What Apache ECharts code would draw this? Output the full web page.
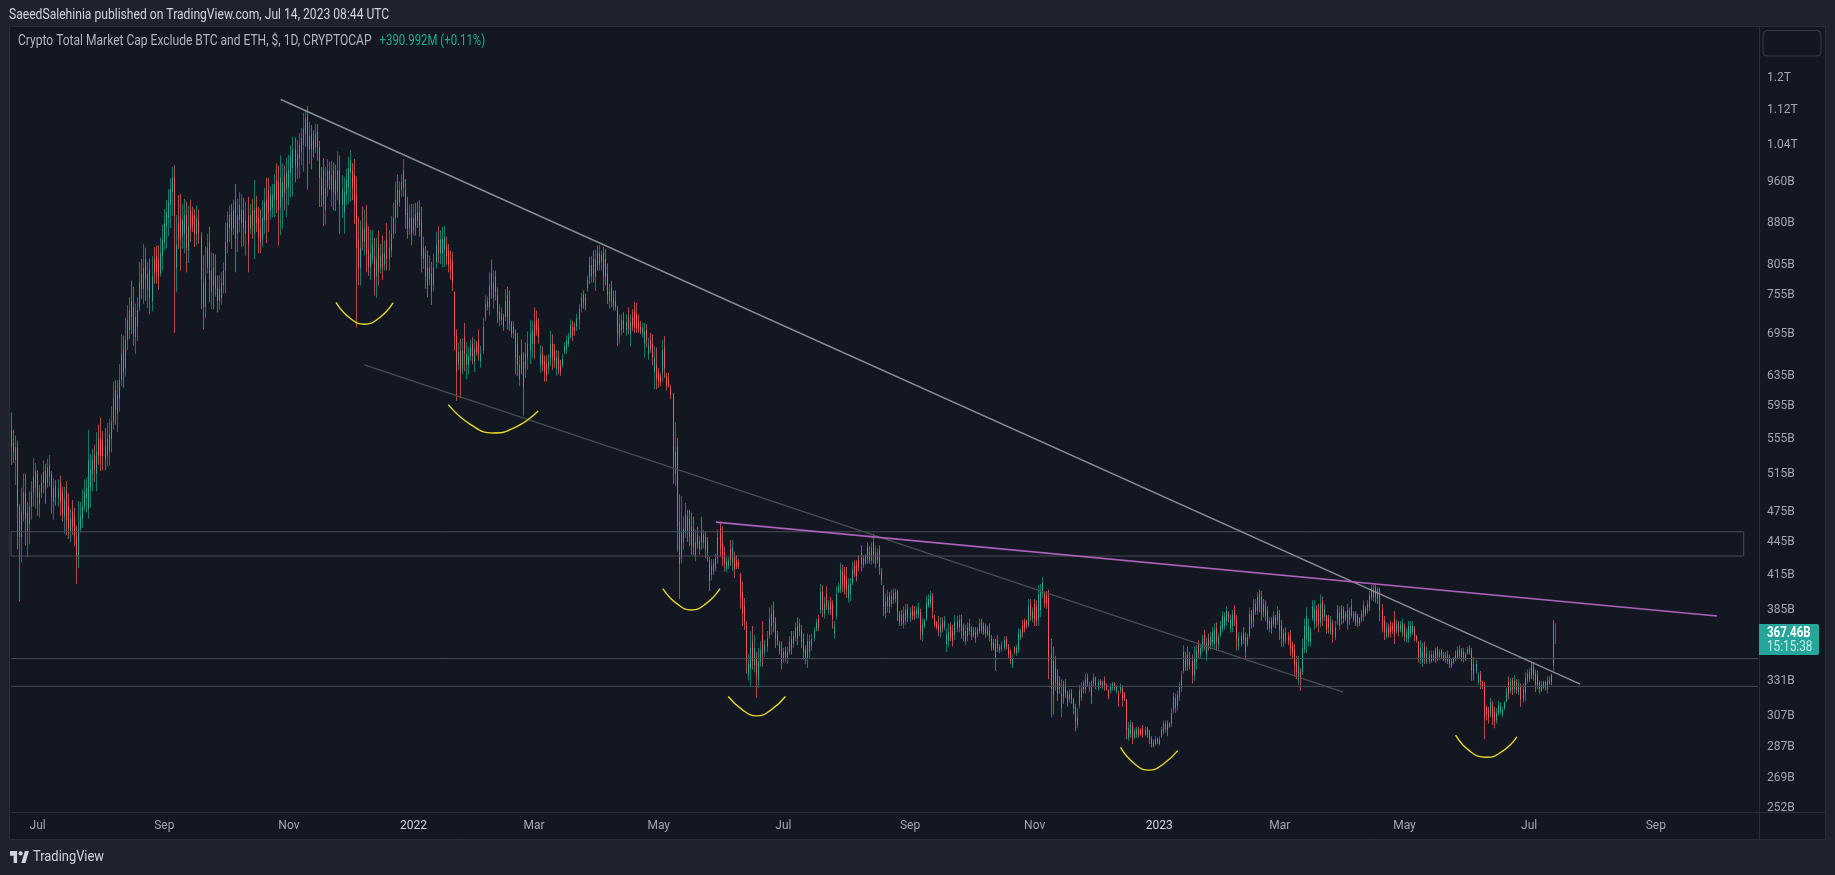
<!DOCTYPE html>
<html>
<head>
<meta charset="utf-8">
<title>Crypto Total Market Cap Exclude BTC and ETH</title>
<style>
html,body{margin:0;padding:0;background:#1e222d;}
#main{width:1835px;height:875px;}
</style>
<script src="https://cdn.jsdelivr.net/npm/echarts@6/dist/echarts.min.js"></script>
</head>
<body>
<div id="main"></div>
<script>
// every row is [open, close, low, high] in billions of dollars, one per day from firstDay
var firstDay = '2021-06-18';
var dayCount = 856;

var candles2021 = [
[565,545,525,587],[550,540,527,566],[530,545,503,559],[545,480,438,553],[480,450,392,483],[450,475,426,500],
[472,495,465,515],[495,468,442,515],[455,475,431,485],[463,480,443,496],[480,495,467,507],[495,512,480,533],
[500,518,478,527],[515,490,471,519],[483,495,469,503],[495,505,489,515],[505,517,494,530],[518,500,483,526],
[505,522,500,532],[512,525,501,536],[515,490,473,518],[485,500,467,510],[502,490,481,508],[490,498,480,509],
[505,485,471,513],[495,472,465,501],[470,488,453,501],[495,465,452,507],[480,458,448,494],[455,468,445,478],
[475,460,452,487],[470,450,441,479],[450,432,407,461],[430,458,421,486],[458,470,454,485],[468,480,459,498],
[480,495,476,509],[488,500,474,511],[478,530,468,566],[500,520,479,537],[515,530,496,543],[535,520,506,548],
[515,540,496,563],[555,535,525,572],[555,535,518,581],[552,535,519,564],[545,532,519,568],[535,555,523,574],
[540,560,524,580],[555,575,539,595],[575,605,566,627],[615,590,572,629],[585,610,563,629],[605,630,588,651],
[630,665,621,694],[672,640,619,692],[645,685,634,719],[685,715,671,738],[700,730,687,751],[745,720,694,778],
[735,695,677,768],[690,720,665,741],[705,730,684,751],[735,775,729,810],[790,765,748,815],[765,800,740,842],
[815,780,745,835],[765,790,734,810],[795,750,724,816],[745,785,729,820],[815,790,773,836],[820,795,773,839],
[815,785,763,839],[790,825,785,853],[820,850,795,877],[845,880,830,907],[875,900,833,924],[890,920,855,946],
[915,945,871,968],[940,970,894,993],[970,895,696,996],[800,840,759,895],[880,850,833,934],[890,850,795,937],
[855,885,833,917],[860,895,825,927],[895,835,792,921],[830,875,808,914],[905,870,845,925],[895,875,863,912],
[895,860,836,907],[860,890,839,914],[885,860,842,906],[855,780,732,863],[775,735,701,821],[735,785,718,837],
[800,835,790,860],[845,780,743,873],[760,795,732,827],[800,770,732,825],[785,765,752,823],[765,745,727,787],
[745,765,731,787],[750,775,739,793],[770,795,757,809],[795,845,757,881],[845,880,825,902],[870,895,845,914],
[900,865,833,917],[870,905,858,925],[920,850,792,957],[860,895,827,927],[885,915,863,940],[880,905,836,937],
[905,870,838,929],[860,885,821,921],[895,840,792,931],[870,895,860,917],[905,875,851,927],[860,905,815,965],
[910,880,863,933],[890,855,825,911],[870,845,825,907],[850,890,836,924],[885,920,860,949],[925,885,843,970],
[945,900,864,969],[905,935,886,952],[910,935,891,957],[925,955,891,977],[965,925,899,1000],[960,905,838,995],
[910,970,857,1017],[930,960,869,1000],[975,940,904,995],[945,980,891,1012],[950,985,914,1018],[980,1015,929,1039],
[990,1030,932,1058],[1030,995,960,1057],[990,1020,967,1051],[1010,1040,969,1066],[1025,1055,996,1078],[1040,1075,982,1114],
[1065,1100,1036,1121],[1105,1035,945,1130],[1030,1060,998,1092],[1065,1030,987,1085],[1050,1030,1012,1073],[1035,1065,1022,1088],
[1070,1035,1006,1087],[1035,970,911,1049],[970,935,911,992],[985,915,874,1011],[905,950,877,992],[950,985,931,1009],
[985,965,945,1003],[945,975,911,1005],[985,940,904,1002],[965,935,903,997],[940,985,924,1026],[985,915,859,1017],
[915,945,889,975],[900,940,860,970],[935,965,914,988],[950,990,917,1014],[980,1005,921,1029],[985,950,924,1000],
[975,915,878,1009],[935,835,704,972],[850,800,770,892],[800,835,770,885],[870,845,830,912],[845,870,821,906],
[880,825,792,914],[830,800,786,874],[800,825,779,867],[815,840,806,867],[820,780,754,853],[785,815,750,853],
[835,795,770,866],[800,820,790,842],[825,800,779,857],[805,825,795,848],[850,815,795,880],[815,835,795,867],
[830,860,818,893],[860,890,851,919],[890,925,860,962],[945,915,890,976],[920,945,911,962]
];

var candles2022 = [
[945,960,931,977],[950,985,931,1009],[945,895,869,967],[900,870,851,931],[870,890,858,916],[890,860,839,917],
[865,890,857,917],[895,875,857,919],[900,885,871,921],[900,875,855,924],[880,820,792,911],[815,835,798,855],
[825,785,765,838],[800,770,751,830],[780,800,770,821],[790,760,739,810],[770,800,760,825],[810,840,798,863],
[850,825,808,874],[825,850,806,867],[825,850,801,873],[830,855,801,875],[840,820,805,855],[830,805,792,842],
[815,795,780,830],[810,775,761,827],[760,690,670,760],[690,640,602,701],[650,668,643,682],[670,640,605,687],
[645,670,637,688],[690,665,641,711],[650,665,630,682],[650,662,637,675],[662,675,656,686],[680,662,651,690],
[655,672,640,687],[678,668,663,684],[685,665,656,701],[655,665,646,677],[670,705,665,719],[720,740,714,754],
[735,745,730,752],[735,770,722,792],[790,765,749,814],[750,775,733,795],[785,760,746,795],[755,725,711,767],
[715,728,706,740],[715,725,708,735],[720,705,699,725],[720,745,714,764],[755,720,701,768],[745,710,699,762],
[710,695,689,714],[695,705,687,714],[695,660,637,701],[680,650,635,696],[630,650,621,663],[665,645,637,686],
[655,620,583,668],[645,665,632,682],[660,680,643,698],[670,695,651,716],[680,700,660,714],[710,680,658,735],
[715,700,692,730],[705,690,680,718],[650,665,639,678],[665,650,641,676],[655,640,627,663],[650,635,627,663],
[645,655,637,665],[660,680,649,699],[680,660,643,694],[670,655,646,680],[645,660,635,671],[660,645,637,670],
[650,640,635,657],[650,658,646,665],[668,676,665,682],[672,685,665,692],[680,690,675,696],[690,708,687,716],
[705,692,684,714],[705,698,692,711],[705,718,699,725],[715,732,701,740],[735,750,727,758],[755,742,733,762],
[750,738,730,757],[765,780,760,787],[805,785,773,819],[785,805,775,820],[815,790,775,830],[785,815,761,831],
[825,805,795,839],[805,825,795,839],[810,822,795,830],[825,785,761,836],[815,785,770,833],[790,755,740,807],
[745,760,733,773],[765,745,735,778],[750,738,730,762],[745,735,730,762],[730,695,677,737],[690,710,680,724],
[700,715,692,724],[715,702,696,727],[700,712,692,724],[720,702,694,735],[695,712,676,724],[720,705,699,732],
[730,705,696,744],[725,702,696,742],[712,700,696,724],[705,698,694,714],[695,703,689,711],[680,698,660,711],
[700,685,675,709],[665,678,657,689],[685,672,667,696],[680,660,649,694],[640,660,617,676],[650,630,617,675],
[640,628,619,646],[635,626,621,639],[640,670,627,686],[675,645,632,691],[635,622,615,639],[630,622,619,639],
[618,610,604,623],[610,525,504,612],[515,540,502,575],[545,460,436,556],[465,425,394,493],[430,455,425,491],
[445,458,438,470],[455,472,449,484],[470,455,445,477],[468,450,441,477],[460,442,433,474],[458,440,433,470],
[432,445,427,457],[452,443,439,460],[438,446,433,451],[455,445,438,470],[444,452,439,457],[450,438,430,455],
[445,435,427,450],[428,410,401,431],[415,423,410,429],[418,425,415,429],[421,430,418,434],[430,450,425,457],
[458,440,431,465],[445,430,423,460],[435,425,418,441],[420,427,417,431],[423,428,420,431],[438,428,423,447],
[425,440,418,447],[432,420,412,436],[428,422,420,433],[426,422,420,429],[415,395,386,417],[400,382,372,409],
[388,375,369,395],[372,345,336,376],[335,343,331,350],[340,355,327,368],[360,345,339,372],[342,355,337,365],
[348,335,319,352],[332,345,326,355],[345,353,341,360],[365,350,341,376],[352,358,348,361],[356,362,352,368],
[365,378,362,387],[372,382,365,389],[385,375,367,392],[375,362,355,379],[365,360,357,368],[358,353,350,360],
[355,345,339,360],[347,352,344,355],[348,353,344,356],[347,352,343,356],[352,360,350,364],[362,354,350,368],
[358,364,355,368],[363,371,360,375],[372,362,357,379],[367,374,364,378],[368,360,355,373],[362,352,346,366],
[354,348,343,357],[347,360,340,366],[352,360,348,365],[356,362,353,366],[363,368,360,371],[369,375,368,378],
[378,371,368,381],[385,400,382,407],[400,385,379,406],[382,390,378,396],[398,388,385,405],[385,390,381,393],
[392,385,381,396],[390,378,370,393],[366,372,362,376],[380,398,377,405],[400,405,399,408],[402,420,399,426],
[418,407,400,424],[415,404,398,422],[412,402,395,422],[395,406,391,412],[398,407,392,412],[408,420,406,427],
[424,416,413,428],[424,414,409,428],[428,422,418,433],[435,425,418,442],[424,430,421,433],[426,432,424,434],
[440,430,425,445],[436,428,425,441],[428,440,424,445],[445,432,425,453],[425,436,421,442],[428,435,425,439],
[438,422,415,442],[418,410,406,421],[404,388,380,406],[382,392,378,399],[388,396,383,402],[397,388,382,400],
[390,397,387,402],[393,399,390,403],[394,400,391,403],[400,384,376,402],[382,375,372,384],[381,376,372,385],
[374,382,370,388],[376,385,373,390],[386,379,375,390],[378,383,375,387],[385,380,377,389],[384,380,377,388],
[381,385,378,388],[381,387,378,391],[383,368,361,386],[365,373,360,378],[372,376,370,378],[378,391,376,397],
[388,394,387,398],[390,397,387,401],[396,384,378,399],[379,374,371,381],[375,371,369,376],[373,368,364,380],
[367,373,363,379],[375,370,367,379],[371,376,369,380],[358,365,352,370],[360,367,356,374],[372,363,360,375],
[368,360,356,373],[365,375,361,381],[370,376,367,380],[371,377,367,381],[378,368,362,381],[371,364,360,374],
[360,368,357,373],[364,371,360,375],[368,374,365,378],[370,364,361,372],[368,365,363,371],[367,362,359,371],
[365,369,363,371],[368,374,366,378],[375,369,366,378],[372,367,365,375],[370,366,363,374],[369,366,364,372],
[368,363,360,374],[362,356,353,365],[359,355,353,362],[358,348,338,362],[361,355,352,365],[353,356,351,358],
[354,357,352,360],[355,361,353,364],[362,357,354,364],[356,350,347,358],[352,346,343,354],[342,347,340,350],
[355,352,350,356],[351,355,349,357],[354,366,351,370],[363,368,361,370],[372,367,363,377],[375,370,367,378],
[376,372,370,377],[373,388,371,394],[390,380,376,394],[378,384,375,387],[390,377,372,394],[388,376,372,393],
[378,398,372,406],[385,400,379,407],[398,408,395,413],[398,391,387,400],[397,390,386,401],[395,345,332,402],
[350,325,306,362],[345,320,308,356],[340,330,324,349],[335,322,317,339],[330,325,322,334],[312,322,306,332],
[328,320,315,331],[328,322,319,332],[322,316,313,324],[318,322,316,325],[322,318,315,325],[317,312,308,319],
[313,303,297,315],[301,306,299,312],[314,324,312,328],[319,326,317,330],[329,325,322,331],[325,332,322,336],
[333,329,327,336],[325,328,323,330],[328,320,315,331],[329,333,327,336],[332,328,325,334],[326,330,324,332],
[331,328,326,332],[327,330,325,331],[331,327,324,334],[328,326,324,329],[324,320,318,325],[324,327,322,329],
[326,329,324,330],[329,326,324,330],[324,327,322,328],[322,317,313,324],[324,327,322,329],[326,318,313,328],
[322,319,317,323],[318,298,292,318],[293,299,291,303],[295,301,293,304],[301,293,289,303],[293,297,292,299],
[295,298,293,300],[298,295,293,300]
];

var candles2023 = [
[298,295,294,299],[299,295,293,301],[295,298,294,300],[299,295,293,300],[296,292,289,298],[292,289,287,294],
[290,288,287,292],[289,292,288,294],[292,290,289,293],[289,292,288,294],[294,298,293,300],[297,302,295,304],
[298,302,296,304],[302,298,294,304],[300,302,299,303],[302,309,300,312],[311,320,309,323],[312,319,309,322],
[314,321,310,324],[320,327,317,330],[326,334,323,338],[338,352,336,357],[348,341,338,352],[350,342,338,356],
[347,342,339,352],[345,335,329,350],[335,347,331,356],[345,353,339,357],[358,351,347,361],[350,355,347,358],
[355,362,352,365],[365,358,353,369],[350,359,345,363],[362,357,353,366],[357,363,354,367],[359,367,356,371],
[358,369,354,374],[370,360,353,375],[358,363,354,366],[365,372,363,376],[370,380,367,384],[372,379,369,383],
[376,384,372,388],[382,378,375,384],[370,377,367,381],[372,381,367,385],[385,377,372,389],[378,362,353,381],
[356,363,353,367],[358,364,356,367],[366,361,358,371],[363,352,346,367],[358,363,356,366],[364,382,362,387],
[382,374,370,385],[386,376,371,394],[383,390,381,394],[384,396,381,400],[398,388,383,402],[396,382,376,401],
[390,383,379,394],[388,380,376,393],[385,374,369,388],[370,376,367,379],[376,370,366,379],[373,380,371,384],
[379,373,370,381],[376,384,373,388],[382,369,361,385],[372,362,356,377],[366,360,356,370],[360,367,358,371],
[364,360,357,367],[365,354,349,369],[357,351,347,360],[354,342,334,358],[344,337,332,349],[332,342,328,349],
[338,332,324,340],[337,355,335,362],[354,372,351,378],[362,380,351,387],[360,372,356,378],[360,368,356,371],
[378,388,376,393],[374,386,369,393],[385,376,371,389],[385,373,367,390],[375,390,371,398],[392,378,372,396],
[379,386,376,390],[380,370,366,381],[379,371,366,381],[367,375,365,380],[374,365,359,377],[363,371,361,376],
[385,378,373,389],[372,383,369,388],[386,378,373,389],[385,378,374,388],[382,378,376,384],[374,385,369,390],
[384,377,373,387],[380,389,378,394],[377,382,375,384],[382,375,372,384],[380,374,371,382],[378,374,372,379],
[377,382,375,385],[379,389,376,393],[386,382,380,388],[384,390,382,393],[387,397,384,401],[395,403,393,406],
[395,402,392,406],[404,396,391,406],[402,395,390,404],[402,385,376,404],[385,372,367,390],[376,367,361,380],
[364,371,362,375],[371,366,363,374],[372,367,363,376],[372,369,366,375],[378,365,358,384],[368,374,366,377],
[374,368,364,376],[369,373,367,376],[366,374,363,378],[372,364,360,374],[362,367,359,370],[362,372,359,376],
[366,372,363,376],[367,372,365,376],[370,364,360,372],[364,361,359,365],[360,348,344,360],[346,355,343,361],
[344,352,341,359],[356,348,343,360],[345,351,343,356],[345,350,343,353],[345,350,344,353],[346,350,345,353],
[353,347,344,355],[354,349,345,356],[348,352,346,354],[353,349,347,354],[350,347,345,352],[349,346,344,352],
[345,350,343,353],[348,343,340,350],[345,342,340,347],[344,347,343,348],[350,347,345,353],[348,353,346,356],
[349,354,347,357],[353,348,345,355],[347,352,344,355],[346,350,345,352],[351,354,350,356],[355,352,350,357],
[353,338,331,355],[343,336,331,348],[338,343,336,346],[330,335,328,337],[336,330,325,338],[330,327,325,331],
[328,305,292,330],[312,308,304,314],[311,306,302,313],[308,316,306,319],[314,306,301,317],[310,303,299,313],
[304,309,302,312],[309,314,307,317],[310,314,308,316],[308,311,306,313],[312,316,311,317],[317,323,316,326],
[330,322,318,334],[324,330,322,333],[331,325,321,333],[325,331,322,335],[330,325,322,332],[323,329,321,332],
[327,318,313,329],[318,325,316,329],[322,333,317,337],[331,336,329,339],[332,337,330,340],[342,335,332,344],
[341,335,331,344],[336,328,323,339],[335,328,325,338],[330,325,322,331],[324,328,323,331],[326,330,325,331],
[330,326,324,331],[325,331,322,334],[329,332,328,334],[335,330,328,336],[342,376,337,377],[367.07,367.46,358,374]
];

// price axis labels
var priceTicks = [1200,1120,1040,960,880,805,755,695,635,595,555,515,475,445,415,385,331,307,287,269,252];
var priceMin = 250;
var priceMax = 1338;

// time axis labels
var timeTickDates = ['2021-07-01','2021-09-01','2021-11-01','2022-01-01','2022-03-01','2022-05-01','2022-07-01','2022-09-01','2022-11-01','2023-01-01','2023-03-01','2023-05-01','2023-07-01','2023-09-01'];
var timeTickNames = ['Jul','Sep','Nov','2022','Mar','May','Jul','Sep','Nov','2023','Mar','May','Jul','Sep'];

// drawings on the chart: [date, price]
var resistanceLine = [['2021-10-28',1146],['2023-07-26',328.6]];
var channelLine = [['2021-12-08',650],['2023-04-01',323]];
var purpleLine = [['2022-05-29',464.5],['2023-10-01',380]];
var rangeBox = [['2021-06-18',455],['2023-10-14',455],['2023-10-14',432],['2021-06-18',432]];
var supportUpper = [['2021-06-18',347],['2023-10-21',347]];
var supportLower = [['2021-06-18',327],['2023-10-21',327]];
var arc1 = [['2021-11-24',743],['2021-12-01',718],['2021-12-08',709],['2021-12-15',718],['2021-12-22',742]];
var arc2 = [['2022-01-18',597],['2022-01-29',572],['2022-02-09',562],['2022-02-20',569],['2022-03-03',589]];
var arc3 = [['2022-05-03',403],['2022-05-10',390],['2022-05-17',385],['2022-05-24',390],['2022-05-31',403]];
var arc4 = [['2022-06-04',320],['2022-06-11',311],['2022-06-18',307],['2022-06-25',311],['2022-07-02',320]];
var arc5 = [['2022-12-13',287],['2022-12-20',277],['2022-12-27',273.4],['2023-01-03',277],['2023-01-10',285]];
var arc6 = [['2023-05-26',294.6],['2023-06-02',284.7],['2023-06-10',281],['2023-06-18',284.7],['2023-06-25',293.6]];

var fontName = 'Roboto,sans-serif';
var candles = candles2021.concat(candles2022, candles2023);

function buildDays(){
	var days = [];
	var t = Date.parse(firstDay + 'T00:00:00Z');
	for(var i=0;i<dayCount;i++){
		days.push(new Date(t + i*86400000).toISOString().slice(0,10));
	}
	return days;
}

function priceLabel(v){
	return v>=1000 ? (v/1000)+'T' : v+'B';
}

function drawing(name,data,color,width,smooth){
	return {
		name:name,
		type:'line',
		data:data,
		smooth:!!smooth,
		showSymbol:false,
		silent:true,
		z:5,
		lineStyle:{color:color,width:width}
	};
}

// the candlestick series strokes its body 2px wide at this density, so draw hairlines
function renderCandle(params,api){
	var day = api.value(0), open = api.value(1), close = api.value(2);
	var up = close>=open;
	var x = Math.floor(api.coord([day,close])[0])+0.5;
	var yLow = api.coord([day,api.value(3)])[1];
	var yHigh = api.coord([day,api.value(4)])[1];
	var yOpen = api.coord([day,open])[1];
	var yClose = api.coord([day,close])[1];
	return {
		type:'group',
		children:[
			{type:'line',shape:{x1:x,y1:yLow,x2:x,y2:yHigh},style:{stroke:up?'#0c7a6c':'#b04a49',lineWidth:1}},
			{type:'line',shape:{x1:x,y1:yOpen,x2:x,y2:yClose},style:{stroke:up?'#22ab94':'#f7525f',lineWidth:1}}
		]
	};
}

// narrow text, the reference font is much tighter than Roboto
function label(x,y,text,fill,font,scaleX){
	return {type:'text',z:21,x:x,y:y,scaleX:scaleX,style:{text:text,fill:fill,font:font+' '+fontName,verticalAlign:'middle'}};
}

var myChart = echarts.init(document.getElementById('main'));
var option = {
	animation:false,
	backgroundColor:'#1e222d',
	textStyle:{fontFamily:fontName},
	grid:{left:10,top:27,width:1749,height:785,containLabel:false},
	xAxis:{
		type:'category',
		data:buildDays(),
		boundaryGap:true,
		axisLine:{show:false},
		axisTick:{show:false},
		splitLine:{show:false},
		axisLabel:{
			color:'#a3a6af',
			fontSize:12,
			margin:8,
			fontFamily:fontName,
			hideOverlap:false,
			interval:function(i,v){return timeTickDates.indexOf(v)>=0;},
			formatter:function(v){
				var name = timeTickNames[timeTickDates.indexOf(v)];
				return name.length==4 ? '{year|'+name+'}' : name;
			},
			rich:{year:{color:'#d1d4dc',fontSize:12,fontFamily:fontName}}
		}
	},
	yAxis:{
		type:'log',
		position:'right',
		min:priceMin,
		max:priceMax,
		axisLine:{show:false},
		axisTick:{show:false},
		splitLine:{show:false},
		minorTick:{show:false},
		axisLabel:{
			color:'#a3a6af',
			fontSize:12,
			margin:8,
			padding:[2,0,0,0],
			fontFamily:fontName,
			customValues:priceTicks,
			formatter:priceLabel
		}
	},
	series:[
		{
			name:'candles',
			type:'custom',
			renderItem:renderCandle,
			data:candles.map(function(c,i){return [i,c[0],c[1],c[2],c[3]];}),
			encode:{x:0,y:[1,2,3,4]},
			silent:true,
			z:2
		},
		drawing('rangeBox',rangeBox.concat([rangeBox[0]]),'#4a4c55',1),
		drawing('supportUpper',supportUpper,'#4a4c55',1),
		drawing('supportLower',supportLower,'#4a4c55',1),
		drawing('channelLine',channelLine,'#4a4c53',1.4),
		drawing('resistanceLine',resistanceLine,'#8b8d94',1.4),
		drawing('purpleLine',purpleLine,'#ab62bb',1.6),
		drawing('arc1',arc1,'#e5d92b',1.4,true),
		drawing('arc2',arc2,'#e5d92b',1.4,true),
		drawing('arc3',arc3,'#e5d92b',1.4,true),
		drawing('arc4',arc4,'#e5d92b',1.4,true),
		drawing('arc5',arc5,'#e5d92b',1.4,true),
		drawing('arc6',arc6,'#e5d92b',1.4,true)
	],
	graphic:{elements:[
		{type:'rect',z:-1,shape:{x:9.5,y:26.5,width:1816,height:813},style:{fill:'#131722',stroke:'#2a2e39',lineWidth:1},silent:true},
		{type:'line',z:1,shape:{x1:1759.5,y1:27,x2:1759.5,y2:839},style:{stroke:'#2a2e39',lineWidth:1},silent:true},
		{type:'line',z:1,shape:{x1:10,y1:812.5,x2:1825,y2:812.5},style:{stroke:'#2a2e39',lineWidth:1},silent:true},
		{type:'rect',z:1,shape:{x:1763,y:30.5,width:58,height:25.5,r:4},style:{fill:'#131722',stroke:'#363a45',lineWidth:1},silent:true},
		label(9,15.5,'SaeedSalehinia published on TradingView.com, Jul 14, 2023 08:44 UTC','#d1d4dc','14px',0.865),
		label(18,41.5,'Crypto Total Market Cap Exclude BTC and ETH, $, 1D, CRYPTOCAP','#b2b5be','14px',0.86),
		label(379.5,41.5,'+390.992M (+0.11%)','#22ab94','14px',0.815),
		{type:'rect',z:20,shape:{x:1759,y:624,width:60,height:31,r:[0,2,2,0]},style:{fill:'#26a69a'},silent:true},
		label(1767,633,'367.46B','#ffffff','bold 14px',0.82),
		label(1767,647,'15:15:38','#c6ebe6','14px',0.84),
		{type:'polygon',z:10,shape:{points:[[10,851],[17.1,851],[17.1,863],[13.6,863],[13.6,855.8],[10,855.8]]},style:{fill:'#d1d4dc'},silent:true},
		{type:'polygon',z:10,shape:{points:[[25.4,863],[21.3,863],[24.9,851],[29,851]]},style:{fill:'#d1d4dc'},silent:true},
		{type:'circle',z:10,shape:{cx:20.6,cy:853.4,r:2.1},style:{fill:'#d1d4dc'},silent:true},
		label(33,857,'TradingView','#d1d4dc','15px',0.86)
	]}
};
myChart.setOption(option);
</script>
</body>
</html>
